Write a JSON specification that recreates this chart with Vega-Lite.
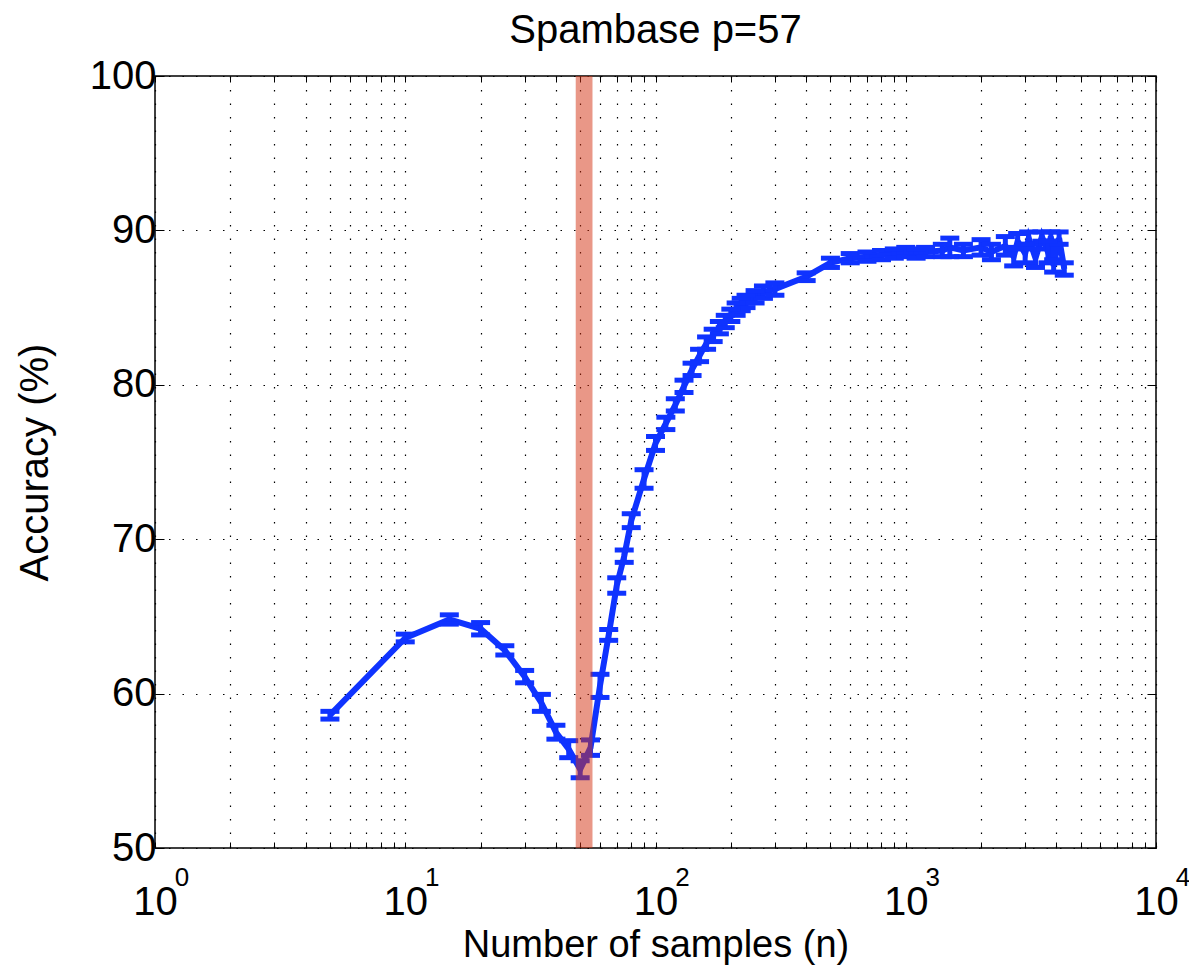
{
  "$schema": "https://vega.github.io/schema/vega-lite/v6.json",
  "width": 1001,
  "height": 772,
  "autosize": {"type": "none"},
  "padding": {"left": 155, "top": 76, "right": 33, "bottom": 120},
  "background": "white",
  "title": {"text": "Spambase p=57", "fontSize": 40, "font": "Liberation Sans", "fontWeight": "normal", "color": "black", "offset": 5, "anchor": "middle"},
  "config": {
    "view": {"stroke": "black", "strokeWidth": 1.5},
    "font": "Liberation Sans"
  },
  "datasets": {
    "acc": [
      {"n": 5, "acc": 58.6, "lo": 58.35, "hi": 58.85},
      {"n": 10, "acc": 63.6, "lo": 63.35, "hi": 63.85},
      {"n": 15, "acc": 64.8, "lo": 64.5, "hi": 65.1},
      {"n": 20, "acc": 64.2, "lo": 63.8, "hi": 64.6},
      {"n": 25, "acc": 62.8, "lo": 62.5, "hi": 63.1},
      {"n": 30, "acc": 61.1, "lo": 60.7, "hi": 61.5},
      {"n": 35, "acc": 59.4, "lo": 58.85, "hi": 59.95},
      {"n": 40, "acc": 57.5, "lo": 57.05, "hi": 57.95},
      {"n": 45, "acc": 56.4, "lo": 55.85, "hi": 56.95},
      {"n": 50, "acc": 55.1, "lo": 54.55, "hi": 55.65},
      {"n": 55, "acc": 56.5, "lo": 56.0, "hi": 57.0},
      {"n": 60, "acc": 60.5, "lo": 59.75, "hi": 61.25},
      {"n": 65, "acc": 63.8, "lo": 63.45, "hi": 64.15},
      {"n": 70, "acc": 67.0, "lo": 66.5, "hi": 67.5},
      {"n": 75, "acc": 68.9, "lo": 68.5, "hi": 69.3},
      {"n": 80, "acc": 71.2, "lo": 70.75, "hi": 71.65},
      {"n": 90, "acc": 73.9, "lo": 73.3, "hi": 74.5},
      {"n": 100, "acc": 76.2, "lo": 75.75, "hi": 76.65},
      {"n": 110, "acc": 77.5, "lo": 77.1, "hi": 77.9},
      {"n": 120, "acc": 78.7, "lo": 78.3, "hi": 79.1},
      {"n": 130, "acc": 79.9, "lo": 79.5, "hi": 80.3},
      {"n": 140, "acc": 81.0, "lo": 80.6, "hi": 81.4},
      {"n": 150, "acc": 81.9, "lo": 81.5, "hi": 82.3},
      {"n": 160, "acc": 82.7, "lo": 82.3, "hi": 83.1},
      {"n": 170, "acc": 83.2, "lo": 82.8, "hi": 83.6},
      {"n": 180, "acc": 83.7, "lo": 83.3, "hi": 84.1},
      {"n": 190, "acc": 84.1, "lo": 83.7, "hi": 84.5},
      {"n": 200, "acc": 84.5, "lo": 84.1, "hi": 84.9},
      {"n": 210, "acc": 84.9, "lo": 84.5, "hi": 85.3},
      {"n": 220, "acc": 85.2, "lo": 84.8, "hi": 85.6},
      {"n": 230, "acc": 85.4, "lo": 85.0, "hi": 85.8},
      {"n": 250, "acc": 85.7, "lo": 85.3, "hi": 86.1},
      {"n": 270, "acc": 86.0, "lo": 85.6, "hi": 86.4},
      {"n": 300, "acc": 86.2, "lo": 85.8, "hi": 86.6},
      {"n": 400, "acc": 87.0, "lo": 86.75, "hi": 87.25},
      {"n": 500, "acc": 87.9, "lo": 87.6, "hi": 88.2},
      {"n": 600, "acc": 88.2, "lo": 87.9, "hi": 88.5},
      {"n": 700, "acc": 88.3, "lo": 88.0, "hi": 88.6},
      {"n": 800, "acc": 88.4, "lo": 88.1, "hi": 88.7},
      {"n": 900, "acc": 88.5, "lo": 88.2, "hi": 88.8},
      {"n": 1000, "acc": 88.6, "lo": 88.3, "hi": 88.9},
      {"n": 1100, "acc": 88.5, "lo": 88.2, "hi": 88.8},
      {"n": 1200, "acc": 88.6, "lo": 88.3, "hi": 88.9},
      {"n": 1400, "acc": 88.7, "lo": 88.3, "hi": 89.1},
      {"n": 1500, "acc": 88.9, "lo": 88.3, "hi": 89.5},
      {"n": 1700, "acc": 88.7, "lo": 88.3, "hi": 89.1},
      {"n": 2000, "acc": 88.9, "lo": 88.4, "hi": 89.4},
      {"n": 2200, "acc": 88.6, "lo": 88.1, "hi": 89.1},
      {"n": 2500, "acc": 89.0, "lo": 88.4, "hi": 89.6},
      {"n": 2700, "acc": 88.3, "lo": 87.7, "hi": 88.9},
      {"n": 2800, "acc": 89.3, "lo": 88.8, "hi": 89.8},
      {"n": 3000, "acc": 88.5, "lo": 87.9, "hi": 89.1},
      {"n": 3100, "acc": 89.5, "lo": 89.1, "hi": 89.9},
      {"n": 3300, "acc": 88.2, "lo": 87.6, "hi": 88.8},
      {"n": 3500, "acc": 89.6, "lo": 89.3, "hi": 89.9},
      {"n": 3700, "acc": 88.6, "lo": 87.9, "hi": 89.3},
      {"n": 3800, "acc": 89.6, "lo": 89.3, "hi": 89.9},
      {"n": 3900, "acc": 87.7, "lo": 87.3, "hi": 88.1},
      {"n": 4100, "acc": 89.5, "lo": 89.1, "hi": 89.9},
      {"n": 4300, "acc": 87.5, "lo": 87.1, "hi": 87.9}
    ],
    "band": [{"from": 48, "to": 56, "bottom": 50, "top": 100}],
    "exps": [
      {"n": 1, "exp": "0", "base": 50},
      {"n": 10, "exp": "1", "base": 50},
      {"n": 100, "exp": "2", "base": 50},
      {"n": 1000, "exp": "3", "base": 50},
      {"n": 10000, "exp": "4", "base": 50}
    ]
  },
  "resolve": {"axis": {"x": "independent", "y": "independent"}},
  "layer": [
    {
      "data": {"name": "acc"},
      "mark": {"type": "line", "color": "#0f33ff", "strokeWidth": 6, "clip": true},
      "encoding": {
        "x": {
          "field": "n", "type": "quantitative",
          "scale": {"type": "log", "domain": [1, 10000], "nice": false},
          "axis": {
            "orient": "bottom",
            "values": [1,2,3,4,5,6,7,8,9,10,20,30,40,50,60,70,80,90,100,200,300,400,500,600,700,800,900,1000,2000,3000,4000,5000,6000,7000,8000,9000,10000],
            "labelExpr": "(datum.value==1||datum.value==10||datum.value==100||datum.value==1000||datum.value==10000) ? '10' : ''",
            "labelFontSize": 40, "labelColor": "black", "labelFont": "Liberation Sans",
            "labelDx": -9, "labelPadding": 40, "labelBound": false, "labelOverlap": false, "labelFlush": false,
            "ticks": true, "tickSize": -6, "tickColor": "black", "tickWidth": 1,
            "domain": false,
            "grid": true, "gridColor": "black", "gridDash": [1.5, 12], "gridWidth": 1.2, "gridOpacity": 1,
            "title": "Number of samples (n)", "titleFontSize": 38, "titleFont": "Liberation Sans", "titleFontWeight": "normal", "titleColor": "black", "titlePadding": 4
          }
        },
        "y": {
          "field": "acc", "type": "quantitative",
          "scale": {"domain": [50, 100], "nice": false, "zero": false},
          "axis": {
            "orient": "left",
            "values": [50, 60, 70, 80, 90, 100],
            "labelFontSize": 40, "labelColor": "black", "labelFont": "Liberation Sans", "labelPadding": 8,
            "labelBound": false, "labelOverlap": false, "labelFlush": false,
            "ticks": true, "tickSize": -9, "tickColor": "black", "tickWidth": 1,
            "domain": false,
            "grid": true, "gridColor": "black", "gridDash": [1.5, 12], "gridWidth": 1.2, "gridOpacity": 1,
            "title": "Accuracy (%)", "titleFontSize": 40, "titleFont": "Liberation Sans", "titleFontWeight": "normal", "titleColor": "black", "titlePadding": 34
          }
        }
      }
    },
    {
      "data": {"name": "acc"},
      "mark": {"type": "rule", "color": "#0f33ff", "strokeWidth": 5, "clip": true},
      "encoding": {
        "x": {"field": "n", "type": "quantitative", "axis": null},
        "y": {"field": "lo", "type": "quantitative", "axis": null},
        "y2": {"field": "hi"}
      }
    },
    {
      "data": {"name": "acc"},
      "mark": {"type": "tick", "orient": "horizontal", "color": "#0f33ff", "size": 19, "thickness": 5, "opacity": 1, "clip": true},
      "encoding": {
        "x": {"field": "n", "type": "quantitative", "axis": null},
        "y": {"field": "lo", "type": "quantitative", "axis": null}
      }
    },
    {
      "data": {"name": "acc"},
      "mark": {"type": "tick", "orient": "horizontal", "color": "#0f33ff", "size": 19, "thickness": 5, "opacity": 1, "clip": true},
      "encoding": {
        "x": {"field": "n", "type": "quantitative", "axis": null},
        "y": {"field": "hi", "type": "quantitative", "axis": null}
      }
    },
    {
      "data": {"name": "band"},
      "mark": {"type": "rect", "color": "#d4300f", "opacity": 0.5},
      "encoding": {
        "x": {
          "field": "from", "type": "quantitative",
          "axis": {
            "orient": "top",
            "values": [1,2,3,4,5,6,7,8,9,10,20,30,40,50,60,70,80,90,100,200,300,400,500,600,700,800,900,1000,2000,3000,4000,5000,6000,7000,8000,9000,10000],
            "labels": false, "ticks": true, "tickSize": -6, "tickColor": "black", "tickWidth": 1,
            "domain": false, "grid": false, "title": null
          }
        },
        "x2": {"field": "to"},
        "y": {
          "field": "bottom", "type": "quantitative",
          "axis": {
            "orient": "right",
            "values": [50, 60, 70, 80, 90, 100],
            "labels": false, "ticks": true, "tickSize": -9, "tickColor": "black", "tickWidth": 1,
            "domain": false, "grid": false, "title": null
          }
        },
        "y2": {"field": "top"}
      }
    },
    {
      "data": {"name": "exps"},
      "mark": {"type": "text", "fontSize": 26, "font": "Liberation Sans", "color": "black", "align": "center", "baseline": "middle", "dx": 27, "dy": 30},
      "encoding": {
        "x": {"field": "n", "type": "quantitative", "axis": null},
        "y": {"field": "base", "type": "quantitative", "axis": null},
        "text": {"field": "exp"}
      }
    }
  ]
}
